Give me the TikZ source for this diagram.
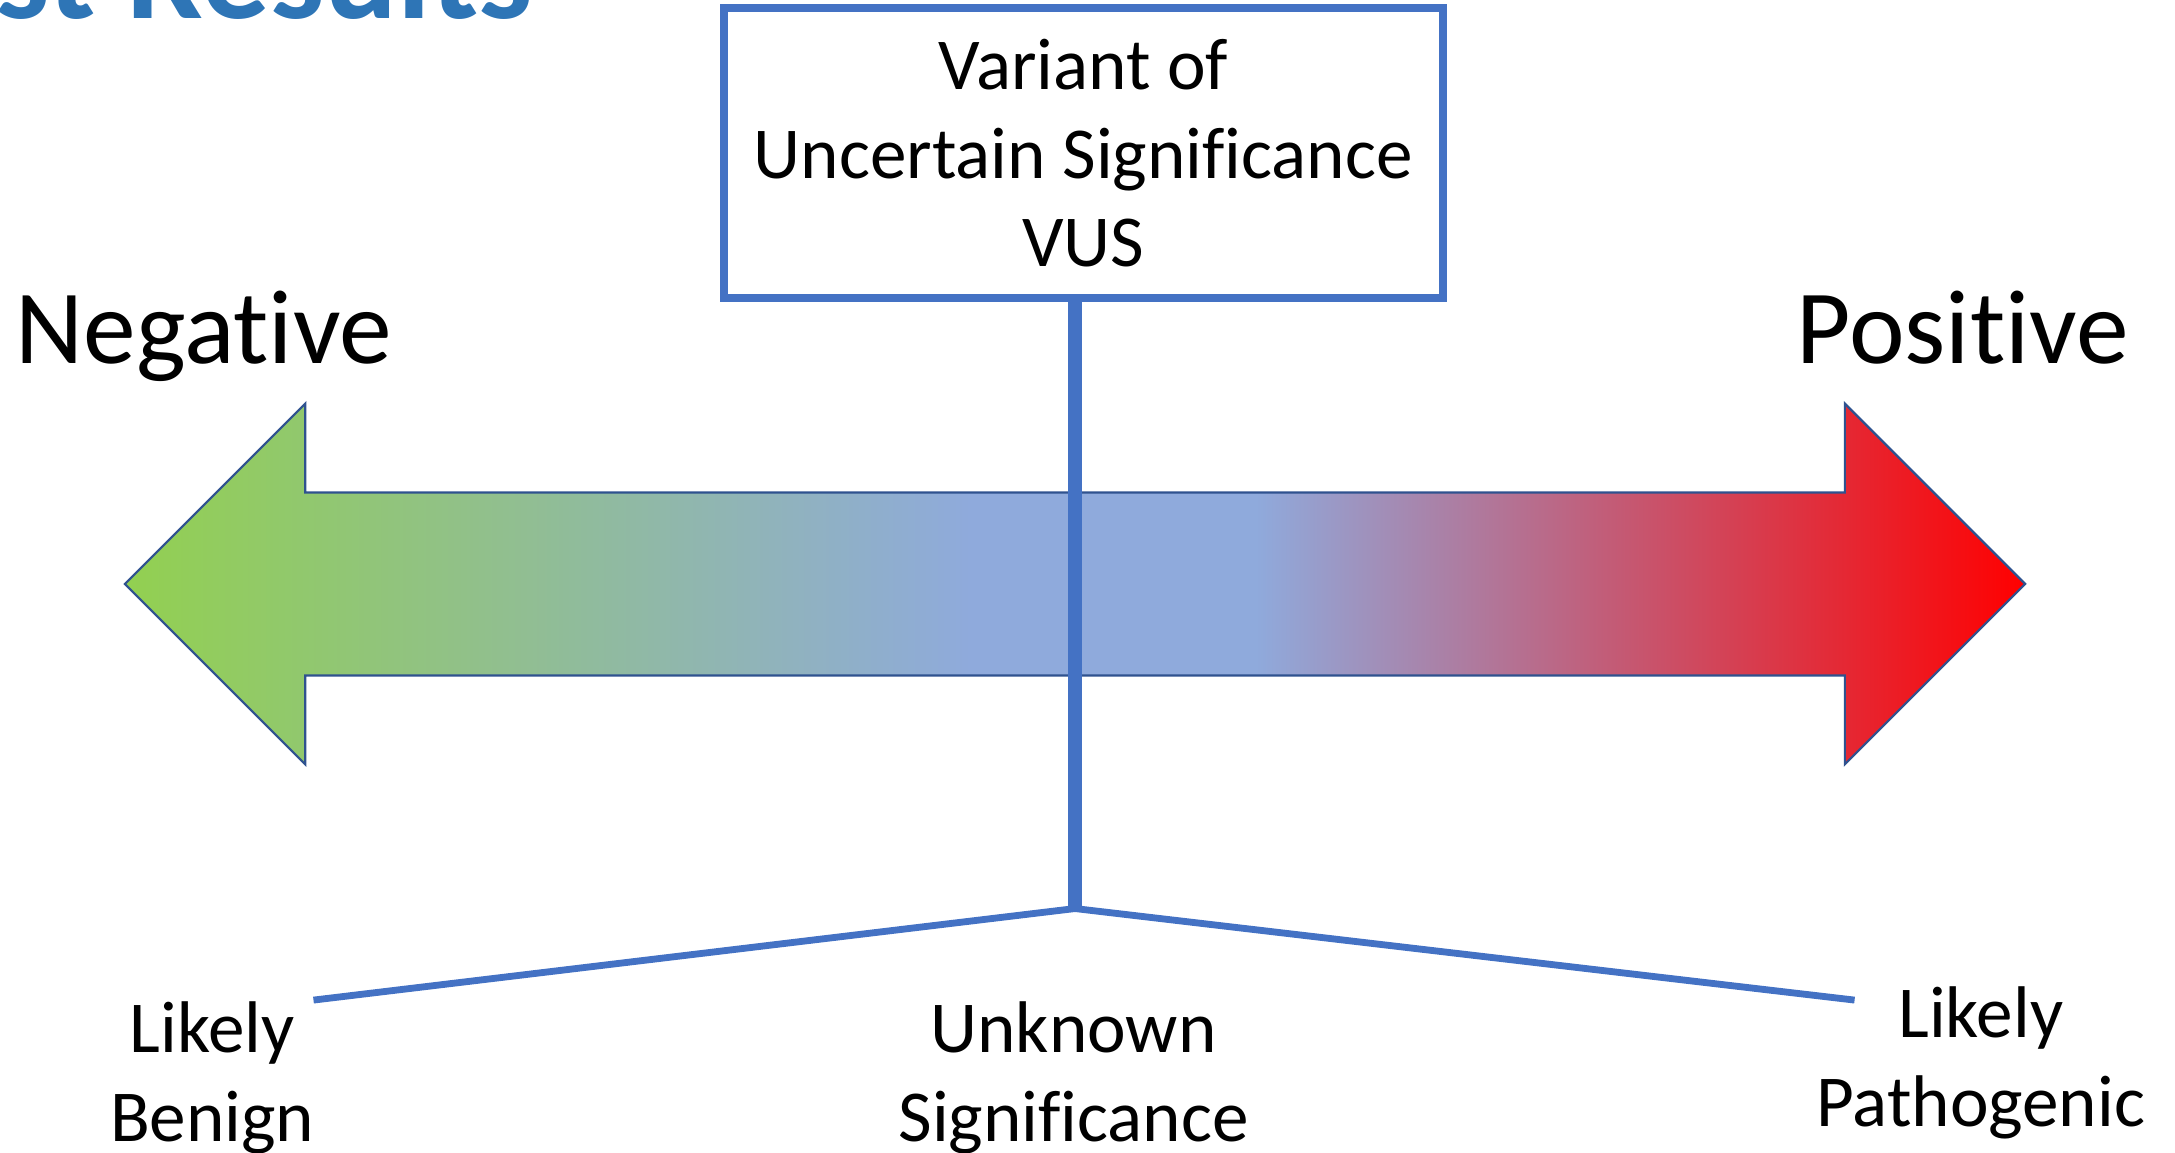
\documentclass[tikz,border=0pt]{standalone}
\usepackage{fontspec}
\setmainfont{Carlito}[Ligatures=NoCommon]

\definecolor{vusblue}{HTML}{4472C4}
\definecolor{edgeblue}{HTML}{2F528F}
\definecolor{titleblue}{HTML}{2E75B6}
\definecolor{benigngreen}{HTML}{92D050}
\definecolor{midblue}{HTML}{8FAADC}
\definecolor{pathred}{HTML}{FF0000}

\pgfdeclarehorizontalshading{vusbar}{100bp}{color(0bp)=(benigngreen); color(25bp)=(benigngreen); color(47.25bp)=(midblue); color(54.75bp)=(midblue); color(75bp)=(pathred); color(100bp)=(pathred)}

\begin{document}
\begin{tikzpicture}[x=0.01cm, y=-0.01cm]
    \useasboundingbox (0,0) rectangle (1568,831);
    \clip (0,0) rectangle (1568,831);

    \node[anchor=base east, inner sep=0, text=titleblue, font=\fontsize{28}{33}\selectfont\bfseries] (T_0) at (385,13.5) {st Results};

    % the scale from benign to pathogenic
    \shadedraw[shading=vusbar, draw=edgeblue, line width=0.45pt]
        (90,421) -- (220,291) -- (220,355) -- (1330,355) -- (1330,291) -- (1460,421)
        -- (1330,551) -- (1330,487) -- (220,487) -- (220,551) -- cycle;

    \begin{scope}[every node/.style={inner sep=0, font=\fontsize{21.6}{26}\selectfont}]
        \node[anchor=base] (N_1) at (147,262) {Negative};
        \node[anchor=base] (N_2) at (1415,262) {Positive};
    \end{scope}

    \begin{scope}[every node/.style={inner sep=0, align=center, font=\fontsize{15}{18.2}\selectfont}]
        \node[draw=vusblue, line width=1.65pt, minimum width=5.18cm, minimum height=2.09cm] (V_1) at (781,110.5) {Variant of\\Uncertain Significance\\VUS};

        \node (L_1) at (153,777) {Likely\\Benign};
        \node (L_2) at (774,777) {Unknown\\Significance};
        \node (L_3) at (1428,766) {Likely\\Pathogenic};
    \end{scope}

    \begin{scope}[vusblue]
        \coordinate (F_0) at (775,655);
        \coordinate (F_1) at (226,721);
        \coordinate (F_3) at (1337,721);
        \draw[line width=1.4pt] (F_1) -- (F_0) -- (F_3);
        \draw[line width=2.85pt] (V_1.south -| F_0) -- (F_0);
    \end{scope}
\end{tikzpicture}
\end{document}
